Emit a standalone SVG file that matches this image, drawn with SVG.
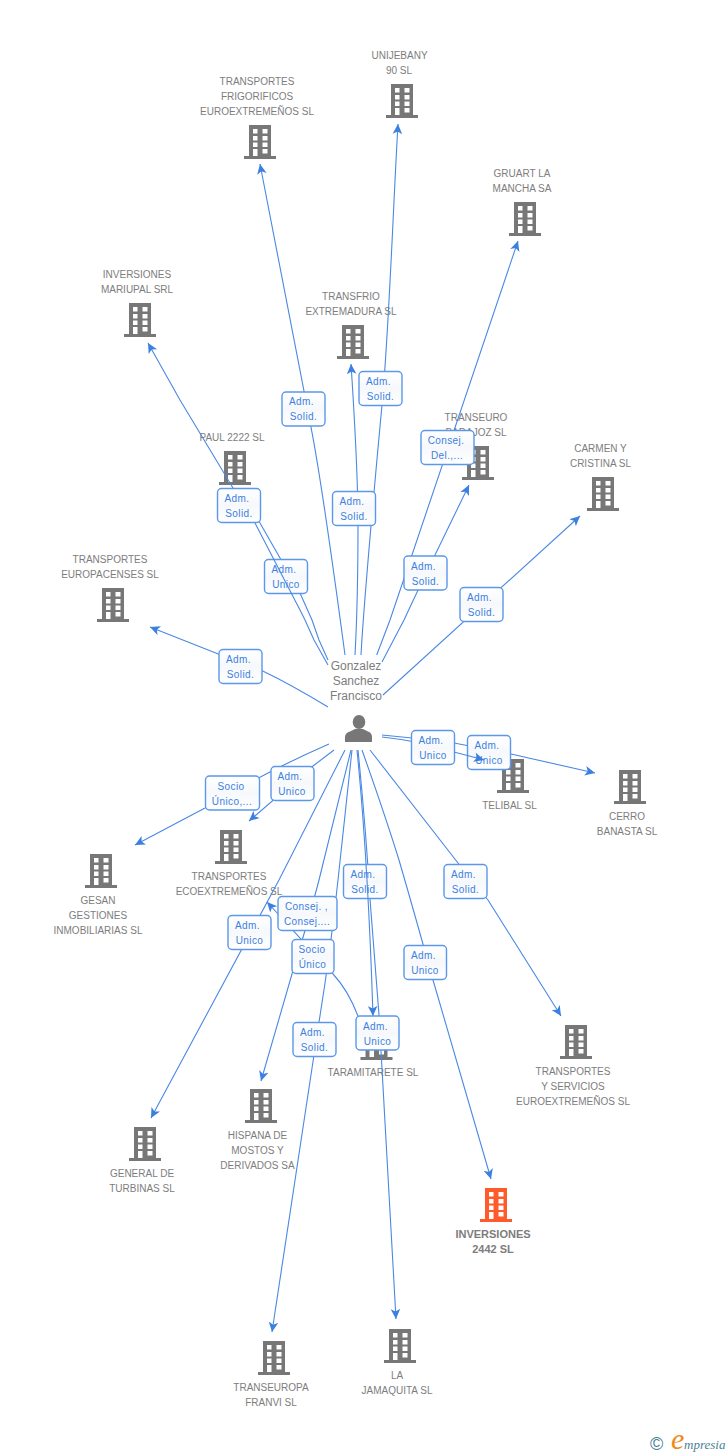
<svg xmlns="http://www.w3.org/2000/svg" width="728" height="1455" viewBox="0 0 728 1455">
<style>
.n{font:10px "Liberation Sans",Arial,sans-serif;fill:#7d7d7d;text-anchor:middle}
.p{font-size:12px}
.b{font-weight:bold;font-size:11px}
.c{fill:none;stroke:#4a88e4;stroke-width:1.1;marker-end:url(#a)}
.d{fill:none;stroke:#4a88e4;stroke-width:1.1}
.r{fill:url(#g);stroke:#5b97ea;stroke-width:1.4}
.t{font:10px "Liberation Sans",Arial,sans-serif;fill:#3b80e0;text-anchor:middle;letter-spacing:.4px}
</style>
<defs>
<linearGradient id="g" x1="0" y1="0" x2="0" y2="1"><stop offset="0" stop-color="#fff"/><stop offset=".5" stop-color="#f6f8fb"/><stop offset="1" stop-color="#fff"/></linearGradient>
<marker id="a" markerUnits="userSpaceOnUse" markerWidth="12" markerHeight="12" refX="10" refY="5" orient="auto"><path d="M10,5L0,0.2L2.6,5L0,9.8Z" fill="#3b80e0"/></marker>
<path id="w" d="M9,4h4.500v4.500h-4.500zM18.500,4h5v4.500h-5zM9,11h4.500v4.500h-4.500zM18.500,11h5v4.500h-5zM9,17.500h4.500v4.500h-4.500zM18.500,17.500h5v4.500h-5zM9,24h4.500v7h-4.500zM18.500,24h5v4.500h-5z" fill="#fff"/>
<g id="k"><path d="M5,0h22v31h5v3H0v-3h5z" fill="#777"/><use href="#w"/></g>
<g id="o"><path d="M5,0h22v31h5v3H0v-3h5z" fill="#ff5a2b"/><use href="#w"/></g>
</defs>
<rect width="728" height="1455" fill="#fff"/>

<g id="n-unijebany"><use href="#k" x="386" y="84"/><text class="n" x="399.500" y="59">UNIJEBANY</text><text class="n" x="399" y="74">90 SL</text></g>
<g id="n-frigorificos"><use href="#k" x="244" y="125"/><text class="n" x="257" y="85">TRANSPORTES</text><text class="n" x="257" y="100">FRIGORIFICOS</text><text class="n" x="257" y="115">EUROEXTREMEÑOS SL</text></g>
<g id="n-gruart"><use href="#k" x="509" y="202"/><text class="n" x="522" y="177">GRUART LA</text><text class="n" x="522" y="192">MANCHA SA</text></g>
<g id="n-mariupal"><use href="#k" x="124" y="303"/><text class="n" x="137" y="278">INVERSIONES</text><text class="n" x="137" y="293">MARIUPAL SRL</text></g>
<g id="n-transfrio"><use href="#k" x="337" y="325"/><text class="n" x="351" y="300">TRANSFRIO</text><text class="n" x="351" y="315">EXTREMADURA SL</text></g>
<g id="n-paul"><use href="#k" x="219" y="451"/><text class="n" x="232" y="441">PAUL 2222 SL</text></g>
<g id="n-transeuro"><use href="#k" x="462" y="446"/><text class="n" x="476" y="421">TRANSEURO</text><text class="n" x="476" y="436">BADAJOZ SL</text></g>
<g id="n-carmen"><use href="#k" x="587" y="477"/><text class="n" x="600.500" y="452">CARMEN Y</text><text class="n" x="600.500" y="467">CRISTINA SL</text></g>
<g id="n-europacenses"><use href="#k" x="97" y="588"/><text class="n" x="110" y="563">TRANSPORTES</text><text class="n" x="110" y="578">EUROPACENSES SL</text></g>
<g id="n-telibal"><use href="#k" x="497" y="759"/><text class="n" x="509.500" y="809">TELIBAL SL</text></g>
<g id="n-cerro"><use href="#k" x="614" y="770"/><text class="n" x="627" y="820">CERRO</text><text class="n" x="627" y="835">BANASTA SL</text></g>
<g id="n-ecoextremenos"><use href="#k" x="215" y="830"/><text class="n" x="229" y="880">TRANSPORTES</text><text class="n" x="229" y="895">ECOEXTREMEÑOS SL</text></g>
<g id="n-gesan"><use href="#k" x="85" y="854"/><text class="n" x="98" y="904">GESAN</text><text class="n" x="98" y="919">GESTIONES</text><text class="n" x="98" y="934">INMOBILIARIAS SL</text></g>
<g id="n-servicios"><use href="#k" x="560" y="1025"/><text class="n" x="573" y="1075">TRANSPORTES</text><text class="n" x="573" y="1090">Y SERVICIOS</text><text class="n" x="573" y="1105">EUROEXTREMEÑOS SL</text></g>
<g id="n-taramitarete"><use href="#k" x="360.500" y="1026"/><text class="n" x="373" y="1076">TARAMITARETE SL</text></g>
<g id="n-hispana"><use href="#k" x="245" y="1089"/><text class="n" x="257.500" y="1139">HISPANA DE</text><text class="n" x="257.500" y="1154">MOSTOS Y</text><text class="n" x="257.500" y="1169">DERIVADOS SA</text></g>
<g id="n-general"><use href="#k" x="129" y="1127"/><text class="n" x="142" y="1177">GENERAL DE</text><text class="n" x="142" y="1192">TURBINAS SL</text></g>
<g id="n-inversiones2442"><use href="#o" x="480" y="1188"/><text class="n b" x="493" y="1238">INVERSIONES</text><text class="n b" x="493" y="1253">2442 SL</text></g>
<g id="n-transeuropa"><use href="#k" x="258" y="1341"/><text class="n" x="271" y="1391">TRANSEUROPA</text><text class="n" x="271" y="1406">FRANVI SL</text></g>
<g id="n-jamaquita"><use href="#k" x="384" y="1329"/><text class="n" x="397" y="1379">LA</text><text class="n" x="397" y="1394">JAMAQUITA SL</text></g>
<g id="n-gonzalez"><ellipse cx="359" cy="722" rx="6.300" ry="7" fill="#777"/><path d="M345,742v-5c0-3 2-4.500 5-5.500l5-2.500h8l5,2.500c2.500,1 4,2.500 4,5.500v5z" fill="#777"/><text class="n p" x="356" y="670">Gonzalez</text><text class="n p" x="356" y="685">Sanchez</text><text class="n p" x="356" y="700">Francisco</text></g>

<g id="connectors">
<path class="c" d="M361,655C364,600 375,480 382,405S393,210 398,124"/>
<path class="c" d="M345,655Q322,483 310.700,425.700L260,164"/>
<path class="c" d="M376.700,655L390,620L518,241"/>
<path class="c" d="M328,660L319,640L312,620L300,593L280,558L260,523L236,490"/>
<path class="c" d="M355,655Q358,600 358,525Q358,470 351,364"/>
<path class="c" d="M382,662L404,620Q425,575 435,555L469,485"/>
<path class="c" d="M383,695L580,516"/>
<path class="c" d="M328,707Q290,684 262.700,671L218.300,654L150,627"/>
<path class="c" d="M382,735L412,738L454,743L511,754L595,773"/>
<path class="d" d="M382,737Q420,741 454,752"/>
<path class="c" d="M329,744Q265,772 205,808L135,845"/>
<path class="c" d="M334,750L313,766L249,821"/>
<path class="c" d="M345,750L279,880L151,1118"/>
<path class="c" d="M351,750L319,880Q310,915 292,974L261,1081"/>
<path class="c" d="M352,750L338,880Q330,955 319,1022L272,1332"/>
<path class="c" d="M358,750Q366,830 370,899L379,1015L396,1319"/>
<path class="c" d="M362,750Q385,815 399,860Q415,915 433,980L491,1179"/>
<path class="c" d="M370,750L458,863Q470,878 488,900L561,1016"/>
<path class="c" d="M358,1016Q348,990 333,974L267,902"/>

<g id="l1"><rect class="r" x="282" y="392" width="43" height="34" rx="4"/><text class="t" x="301.500" y="405">Adm.</text><text class="t" x="303.500" y="420">Solid.</text></g>
<g id="l2"><rect class="r" x="359" y="371.500" width="43" height="34" rx="4"/><text class="t" x="378.500" y="385">Adm.</text><text class="t" x="380.500" y="400">Solid.</text></g>
<g id="l3"><rect class="r" x="421" y="430.500" width="53" height="34" rx="4"/><text class="t" x="446" y="444">Consej.</text><text class="t" x="447" y="459">Del.,...</text></g>
<g id="l6"><rect class="r" x="264.500" y="559.500" width="43" height="34" rx="4"/><text class="t" x="284" y="573">Adm.</text><text class="t" x="286" y="588">Unico</text></g>
<path class="c" d="M328,665L314,640L305,620L300,610L255,523L233,488L180,400L148,343"/>
<g id="l4"><rect class="r" x="217.500" y="488.500" width="43" height="34" rx="4"/><text class="t" x="237" y="502">Adm.</text><text class="t" x="239" y="517">Solid.</text></g>
<g id="l5"><rect class="r" x="332.500" y="491.500" width="43" height="34" rx="4"/><text class="t" x="352" y="505">Adm.</text><text class="t" x="354" y="520">Solid.</text></g>
<g id="l7"><rect class="r" x="404" y="556" width="43" height="34" rx="4"/><text class="t" x="423.500" y="570">Adm.</text><text class="t" x="425.500" y="585">Solid.</text></g>
<g id="l8"><rect class="r" x="460" y="587.500" width="43" height="34" rx="4"/><text class="t" x="479.500" y="601">Adm.</text><text class="t" x="481.500" y="616">Solid.</text></g>
<g id="l9"><rect class="r" x="219" y="649.500" width="43" height="34" rx="4"/><text class="t" x="238.500" y="663">Adm.</text><text class="t" x="240.500" y="678">Solid.</text></g>
<g id="l10"><rect class="r" x="411.500" y="730.500" width="43" height="34" rx="4"/><text class="t" x="431" y="744">Adm.</text><text class="t" x="433" y="759">Unico</text></g>
<g id="l11"><rect class="r" x="467.500" y="735.500" width="43" height="34" rx="4"/><text class="t" x="487" y="749">Adm.</text><text class="t" x="489" y="764">Unico</text></g>
<path class="c" d="M454.800,752.200Q470,756 484,760"/>
<g id="l12"><rect class="r" x="205.500" y="776" width="54" height="34" rx="4"/><text class="t" x="231" y="790">Socio</text><text class="t" x="232" y="805">Único,...</text></g>
<g id="l13"><rect class="r" x="271" y="766.500" width="43" height="34" rx="4"/><text class="t" x="290" y="780">Adm.</text><text class="t" x="292" y="795">Unico</text></g>
<g id="l14"><rect class="r" x="343.500" y="864.500" width="43" height="34" rx="4"/><text class="t" x="363" y="878">Adm.</text><text class="t" x="365" y="893">Solid.</text></g>
<path class="c" d="M357,750Q368,860 373,1016"/>
<g id="l15"><rect class="r" x="444" y="864.500" width="43" height="34" rx="4"/><text class="t" x="463.500" y="878">Adm.</text><text class="t" x="465.500" y="893">Solid.</text></g>
<g id="l16"><rect class="r" x="278" y="896.500" width="59" height="34" rx="4"/><text class="t" x="306.500" y="910">Consej. ,</text><text class="t" x="307" y="925">Consej....</text></g>
<g id="l17"><rect class="r" x="228" y="915.500" width="43" height="34" rx="4"/><text class="t" x="247.500" y="929">Adm.</text><text class="t" x="249.500" y="944">Unico</text></g>
<g id="l18"><rect class="r" x="292" y="939.500" width="42" height="34" rx="4"/><text class="t" x="312" y="953">Socio</text><text class="t" x="312.500" y="968">Único</text></g>
<g id="l19"><rect class="r" x="404" y="945.500" width="42.500" height="34" rx="4"/><text class="t" x="423.500" y="959">Adm.</text><text class="t" x="425" y="974">Unico</text></g>
<g id="l20"><rect class="r" x="293" y="1022.500" width="43" height="34" rx="4"/><text class="t" x="312.500" y="1036">Adm.</text><text class="t" x="314.500" y="1051">Solid.</text></g>
<g id="l21"><rect class="r" x="356" y="1016" width="43" height="34" rx="4"/><text class="t" x="375.500" y="1030">Adm.</text><text class="t" x="377.500" y="1045">Unico</text></g>
</g>

<g id="logo"><text x="650" y="1450" style="font:18px 'Liberation Sans',sans-serif;fill:#4a7f95">©</text><text x="671" y="1449" style="font:italic 30px 'Liberation Serif',serif;fill:#f08a1d">e</text><text x="684" y="1449" style="font:italic 13px 'Liberation Serif',serif;fill:#4a7f95">mpresia</text></g>
</svg>
